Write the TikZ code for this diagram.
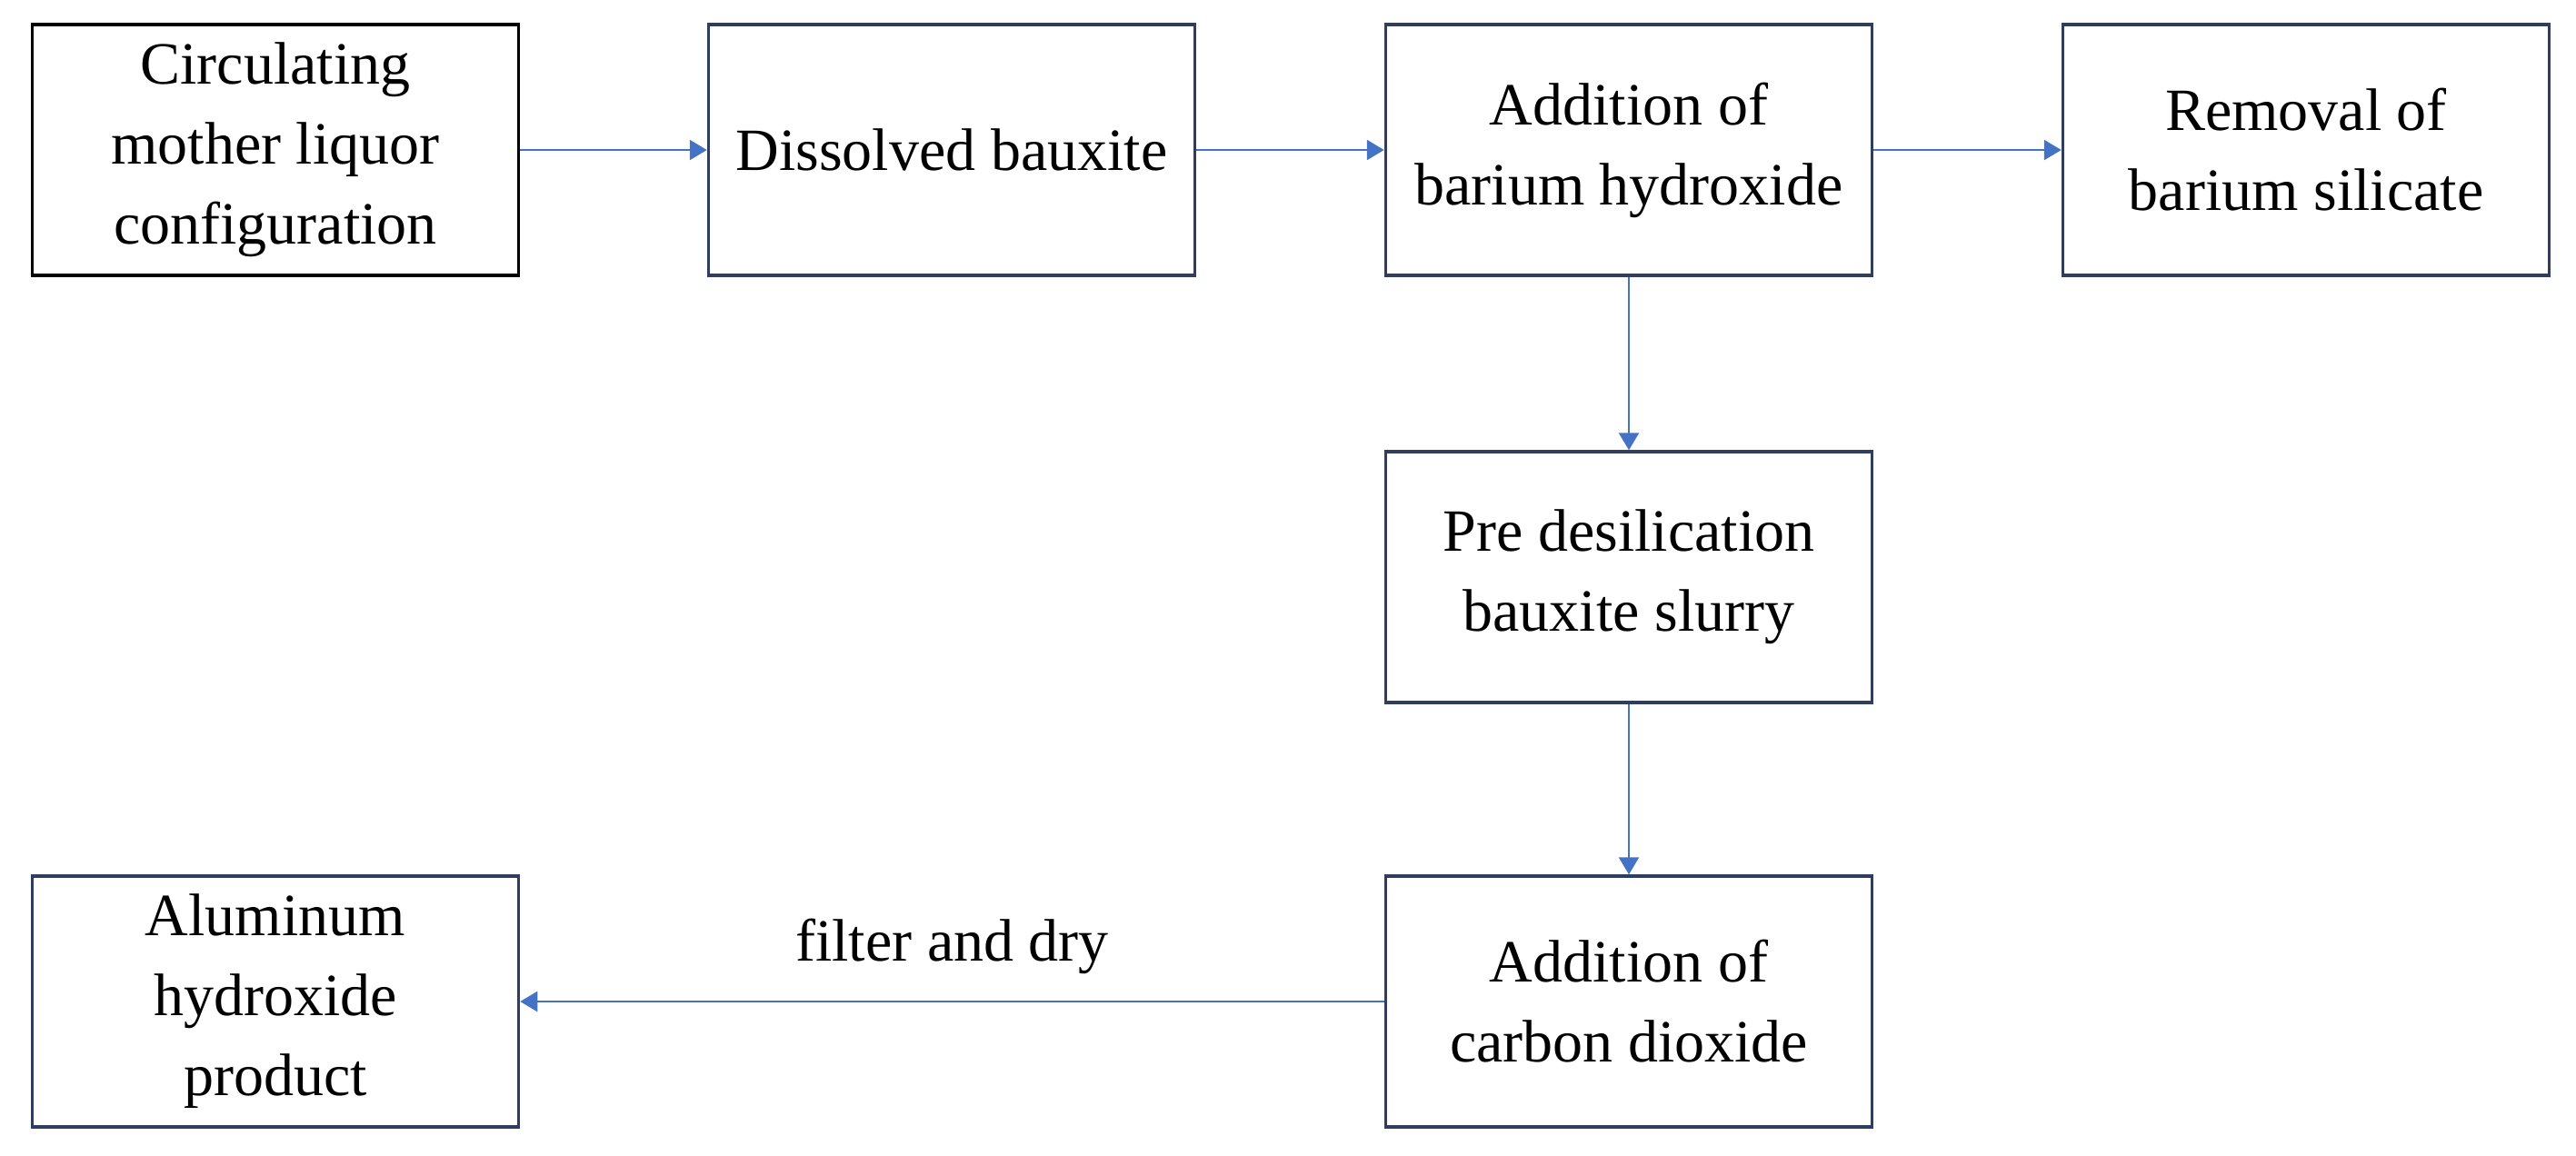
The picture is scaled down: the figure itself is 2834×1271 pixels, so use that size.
\documentclass[tikz,border=0pt]{standalone}
\usepackage{fontspec}
\setmainfont{Liberation Serif}
\usetikzlibrary{arrows.meta}
\definecolor{flowblue}{RGB}{68,114,196}
\definecolor{boxline}{RGB}{47,62,96}

\begin{document}
\begin{tikzpicture}[x=0.2pt,y=-0.2pt,
  stage/.style={draw=boxline,line width=0.7pt,minimum width=107pt,minimum height=55.2pt,
    inner sep=0pt,align=center,font=\fontsize{13.2}{17.6}\selectfont},
  flow/.style={draw=flowblue,line width=0.5pt,-{Triangle[length=3.8pt,width=4.4pt]}}]
\useasboundingbox (0,0) rectangle (2834,1271);
\node[stage,draw=black](circ)at(303,165){Circulating\\mother liquor\\configuration};
\node[stage](dissolve)at(1047,165){Dissolved bauxite};
\node[stage](bahydr)at(1792,165){Addition of\\barium hydroxide};
\node[stage](basil)at(2537,165){Removal of\\barium silicate};
\node[stage](slurry)at(1792,635){Pre desilication\\bauxite slurry};
\node[stage](cotwo)at(1792,1102){Addition of\\carbon dioxide};
\node[stage](alhydr)at(303,1102){Aluminum\\hydroxide\\product};
\draw[flow](circ)--(dissolve);
\draw[flow](dissolve)--(bahydr);
\draw[flow](bahydr)--(basil);
\draw[flow](bahydr)--(slurry);
\draw[flow](slurry)--(cotwo);
\draw[flow](cotwo)--(alhydr) node[midway,above,yshift=2.5pt,font=\fontsize{13.2}{17.6}\selectfont]{filter and dry};
\end{tikzpicture}
\end{document}
